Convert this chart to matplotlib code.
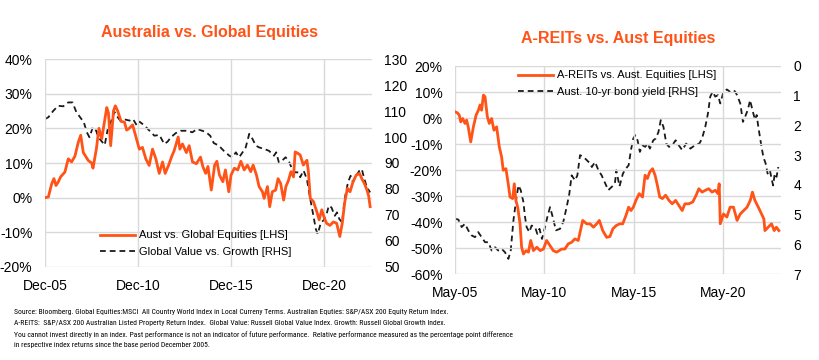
import matplotlib
matplotlib.use("Agg")
import matplotlib.pyplot as plt
from matplotlib import font_manager
from matplotlib.font_manager import FontProperties

plt.rcParams['font.family'] = ['Liberation Sans', 'DejaVu Sans']
plt.rcParams['axes.unicode_minus'] = False

ORANGE = '#FF5317'

# ---------------- Left chart data (decimal years) ----------------
aus_t = [2005.92, 2006.1, 2006.28, 2006.4, 2006.51, 2006.63, 2006.76, 2006.99, 2007.17, 2007.35,
         2007.53, 2007.71, 2007.84, 2007.98, 2008.25, 2008.43, 2008.5, 2008.68, 2008.82, 2008.97,
         2009.24, 2009.33, 2009.45, 2009.57, 2009.6, 2009.7, 2009.83, 2010.01, 2010.19, 2010.31,
         2010.45, 2010.63, 2010.81, 2010.99, 2011.16, 2011.34, 2011.52, 2011.7, 2011.88, 2012.06,
         2012.24, 2012.38, 2012.56, 2012.74, 2012.86, 2013.08, 2013.17, 2013.31, 2013.52, 2013.67,
         2013.85, 2014.06, 2014.28, 2014.41, 2014.56, 2014.68, 2014.86, 2015.04, 2015.16, 2015.3,
         2015.48, 2015.62, 2015.8, 2015.92, 2016.1, 2016.28, 2016.45, 2016.63, 2016.8, 2016.98,
         2017.11, 2017.29, 2017.43, 2017.61, 2017.7, 2017.88, 2018.0, 2018.14, 2018.32, 2018.45,
         2018.59, 2018.75, 2018.87, 2019.01, 2019.14, 2019.28, 2019.37, 2019.51, 2019.64, 2019.81,
         2020.0, 2020.08, 2020.18, 2020.35, 2020.53, 2020.66, 2020.8, 2020.94, 2021.06, 2021.24,
         2021.42, 2021.6, 2021.77, 2021.9, 2022.04, 2022.18, 2022.32, 2022.48, 2022.65, 2022.83,
         2022.95, 2023.09, 2023.23, 2023.32, 2023.4]
aus_v = [0.0, 0.2, 4.0, 5.5, 3.5, 4.5, 6.0, 7.4, 11.2, 10.3,
         12.0, 16.0, 18.0, 13.0, 10.7, 10.0, 8.5, 14.0, 20.0, 17.0,
         26.0, 24.5, 15.0, 22.7, 25.0, 26.5, 25.0, 22.0, 21.8, 19.5,
         20.0, 21.0, 17.5, 14.0, 14.5, 11.2, 9.3, 14.0, 11.2, 7.0,
         10.3, 7.0, 9.3, 12.0, 13.5, 17.5, 14.0, 15.5, 13.0, 15.0,
         10.3, 9.8, 11.7, 8.9, 7.0, 9.0, 2.2, 9.4, 10.5, 6.5,
         4.6, 8.0, 1.7, 6.5, 8.5, 8.0, 10.5, 8.0, 9.4, 7.5,
         9.4, 6.5, 3.2, 1.7, -0.2, 3.2, -2.6, 1.7, 2.2, 5.5,
         4.1, -0.7, 3.2, 5.0, 7.5, 6.0, 13.2, 12.8, 12.3, 9.4,
         10.8, 7.5, -0.2, -1.1, -4.0, -6.4, -3.5, -5.9, -7.4, -8.0,
         -7.0, -7.4, -11.2, -7.4, -1.1, 2.7, 1.7, 4.6, 6.5, 7.0,
         5.5, 4.1, 2.2, 0.5, -2.6]

gvg_t = [2005.92, 2006.1, 2006.37, 2006.63, 2006.9, 2007.17, 2007.4, 2007.61, 2007.88, 2008.01,
         2008.17, 2008.31, 2008.49, 2008.67, 2008.79, 2009.13, 2009.31, 2009.49, 2009.65, 2009.83,
         2009.97, 2010.24, 2010.47, 2010.65, 2010.86, 2011.0, 2011.27, 2011.54, 2011.8, 2012.07,
         2012.33, 2012.51, 2012.69, 2012.95, 2013.22, 2013.57, 2013.84, 2014.1, 2014.37, 2014.55,
         2014.8, 2014.99, 2015.26, 2015.53, 2015.83, 2016.0, 2016.18, 2016.36, 2016.54, 2016.71,
         2016.9, 2017.08, 2017.25, 2017.43, 2017.7, 2017.96, 2018.23, 2018.35, 2018.49, 2018.67,
         2018.85, 2019.02, 2019.2, 2019.37, 2019.55, 2019.64, 2019.82, 2020.0, 2020.18, 2020.35,
         2020.48, 2020.58, 2020.76, 2020.88, 2021.06, 2021.18, 2021.32, 2021.5, 2021.62, 2021.74,
         2021.89, 2022.03, 2022.21, 2022.35, 2022.48, 2022.65, 2022.83, 2022.95, 2023.09, 2023.23,
         2023.4]
gvg_v = [106.9, 107.6, 110.1, 112.0, 111.8, 113.3, 113.3, 109.5, 106.9, 105.6,
         101.8, 99.9, 103.7, 102.4, 99.9, 96.9, 103.7, 106.3, 109.7, 107.6,
         106.3, 106.7, 106.3, 106.9, 104.4, 105.9, 104.4, 102.4, 100.5, 100.8,
         97.3, 98.2, 99.9, 101.5, 102.4, 102.4, 101.8, 103.1, 102.4, 102.0,
         100.5, 97.7, 96.7, 94.7, 92.8, 92.2, 94.1, 92.2, 94.1, 96.0,
         101.2, 99.2, 96.7, 96.0, 95.4, 94.7, 92.8, 94.1, 90.3, 90.9,
         92.2, 90.9, 87.7, 86.4, 86.4, 84.5, 87.1, 83.8, 76.2, 69.7,
         64.6, 62.7, 67.2, 67.8, 70.4, 73.6, 72.9, 69.7, 71.0, 68.5,
         67.2, 76.2, 82.6, 85.1, 82.6, 85.1, 87.1, 87.7, 83.8, 80.6,
         78.7]

left_xticks = [2005.92, 2010.92, 2015.92, 2020.92]
left_xlabels = ['Dec-05', 'Dec-10', 'Dec-15', 'Dec-20']
left_yticks = [-20, -10, 0, 10, 20, 30, 40]
left_y2ticks = [50, 60, 70, 80, 90, 100, 110, 120, 130]

# ---------------- Right chart data ----------------
reit_t = [2005.33, 2005.46, 2005.57, 2005.65, 2005.76, 2005.89, 2005.98, 2006.07, 2006.21, 2006.36,
          2006.51, 2006.64, 2006.73, 2006.82, 2006.92, 2007.01, 2007.14, 2007.25, 2007.38, 2007.51,
          2007.66, 2007.81, 2007.94, 2008.03, 2008.18, 2008.31, 2008.41, 2008.56, 2008.65, 2008.74,
          2008.84, 2008.97, 2009.06, 2009.16, 2009.31, 2009.44, 2009.57, 2009.72, 2009.91, 2010.1,
          2010.28, 2010.46, 2010.65, 2010.83, 2011.02, 2011.3, 2011.48, 2011.67, 2011.86, 2012.04,
          2012.23, 2012.48, 2012.7, 2012.89, 2013.08, 2013.26, 2013.41, 2013.6, 2013.82, 2014.0,
          2014.17, 2014.35, 2014.54, 2014.72, 2014.9, 2015.05, 2015.18, 2015.31, 2015.46, 2015.64,
          2015.83, 2015.97, 2016.1, 2016.23, 2016.39, 2016.53, 2016.66, 2016.79, 2016.94, 2017.12,
          2017.31, 2017.49, 2017.68, 2017.86, 2018.05, 2018.2, 2018.42, 2018.64, 2018.83, 2018.98,
          2019.16, 2019.35, 2019.53, 2019.72, 2019.9, 2020.05, 2020.12, 2020.18, 2020.36, 2020.55,
          2020.73, 2020.92, 2021.12, 2021.3, 2021.49, 2021.68, 2021.86, 2021.98, 2022.12, 2022.31,
          2022.49, 2022.62, 2022.68, 2022.86, 2023.05, 2023.2, 2023.32, 2023.46]
reit_v = [2.4, 2.0, 1.1, -1.5, -0.2, -2.1, -0.8, -3.4, -9.2, -3.4,
          1.1, 3.0, 5.0, 3.0, 8.8, 8.2, 0.5, -2.1, -0.2, -4.7,
          -3.4, -11.1, -15.0, -20.1, -19.5, -25.3, -30.4, -31.0, -25.3, -31.7,
          -34.3, -40.7, -49.7, -52.3, -51.0, -51.6, -47.1, -51.0, -49.7, -51.0,
          -50.4, -47.1, -49.1, -51.0, -51.6, -50.4, -50.4, -48.4, -47.8, -46.5,
          -47.1, -39.4, -40.7, -40.7, -42.0, -40.7, -39.4, -43.3, -45.9, -45.6,
          -42.6, -41.4, -40.7, -40.7, -37.5, -34.3, -35.6, -34.3, -31.7, -29.1,
          -30.4, -22.0, -23.3, -20.8, -19.5, -22.0, -25.9, -30.4, -31.0, -29.7,
          -31.7, -33.0, -31.7, -33.6, -35.6, -33.0, -33.0, -32.3, -29.7, -27.2,
          -28.5, -27.8, -27.2, -28.5, -27.8, -29.1, -25.3, -40.7, -36.9, -38.1,
          -34.3, -34.3, -39.4, -36.9, -35.6, -34.3, -31.7, -28.5, -31.7, -34.3,
          -36.9, -38.8, -43.3, -42.0, -40.7, -43.3, -42.0, -43.3]

bond_t = [2005.33, 2005.52, 2005.7, 2005.89, 2006.07, 2006.26, 2006.45, 2006.63, 2006.82, 2007.01,
          2007.2, 2007.38, 2007.57, 2007.75, 2007.94, 2008.13, 2008.32, 2008.45, 2008.6, 2008.75,
          2008.88, 2009.01, 2009.16, 2009.25, 2009.34, 2009.49, 2009.62, 2009.81, 2009.94, 2010.06,
          2010.2, 2010.37, 2010.5, 2010.65, 2010.8, 2010.98, 2011.21, 2011.39, 2011.58, 2011.73,
          2011.86, 2012.05, 2012.18, 2012.33, 2012.52, 2012.71, 2012.89, 2012.99, 2013.17, 2013.36,
          2013.54, 2013.91, 2014.1, 2014.28, 2014.36, 2014.54, 2014.73, 2014.9, 2015.05, 2015.18,
          2015.31, 2015.42, 2015.55, 2015.68, 2015.83, 2015.98, 2016.11, 2016.24, 2016.43, 2016.57,
          2016.72, 2016.85, 2017.0, 2017.16, 2017.31, 2017.49, 2017.68, 2017.86, 2018.05, 2018.27,
          2018.51, 2018.75, 2018.88, 2019.01, 2019.16, 2019.34, 2019.49, 2019.62, 2019.75, 2019.9,
          2020.05, 2020.18, 2020.36, 2020.55, 2020.73, 2020.92, 2021.02, 2021.12, 2021.3, 2021.45,
          2021.57, 2021.72, 2021.85, 2021.98, 2022.13, 2022.22, 2022.31, 2022.46, 2022.59, 2022.72,
          2022.83, 2022.96, 2023.05, 2023.14, 2023.23, 2023.33, 2023.43]
bond_v = [5.14, 5.17, 5.42, 5.31, 5.53, 5.70, 5.76, 5.59, 5.76, 5.93,
          5.93, 6.21, 6.10, 6.21, 6.15, 6.27, 6.49, 6.21, 5.20, 4.52,
          4.02, 4.18, 4.58, 5.08, 5.42, 5.59, 5.37, 5.42, 5.65, 5.48,
          5.82, 5.42, 5.08, 4.75, 5.08, 5.53, 5.48, 5.25, 4.75, 4.30,
          3.68, 3.85, 3.68, 3.00, 3.06, 3.17, 3.28, 3.40, 3.23, 3.51,
          3.68, 4.18, 4.07, 3.96, 3.51, 4.05, 3.62, 3.45, 3.34, 2.83,
          2.44, 2.33, 2.50, 2.89, 2.67, 2.72, 2.61, 2.78, 2.50, 2.44,
          2.22, 1.82, 2.05, 2.61, 2.72, 2.67, 2.50, 2.67, 2.83, 2.61,
          2.78, 2.67, 2.63, 2.61, 2.44, 2.05, 1.60, 1.03, 0.87, 1.03,
          0.98, 1.26, 0.87, 0.79, 0.87, 0.81, 0.87, 0.98, 1.26, 1.88,
          1.71, 1.48, 1.15, 1.48, 1.82, 1.65, 2.05, 2.61, 3.06, 3.28,
          3.62, 3.51, 3.79, 4.02, 3.62, 3.73, 3.40, 3.51, 4.02]

right_xticks = [2005.33, 2010.33, 2015.33, 2020.33]
right_xlabels = ['May-05', 'May-10', 'May-15', 'May-20']
right_yticks = [-60, -50, -40, -30, -20, -10, 0, 10, 20]
right_y2ticks = [0, 1, 2, 3, 4, 5, 6, 7]

footnote = [
    "Source: Bloomberg. Global Equities:MSCI  All Country World Index in Local Curreny Terms. Australian Equties: S&P/ASX 200 Equity Return Index.",
    "A-REITS:  S&P/ASX 200 Australian Listed Property Return Index.  Global Value: Russell Global Value Index. Growth: Russell Global Growth Index.",
    "You cannot invest directly in an index. Past performance is not an indicator of future performance.  Relative performance measured as the percentage point difference",
    "in respective index returns since the base period December 2005.",
]

n = min(len(bond_t), len(bond_v))
bond_t, bond_v = bond_t[:n], bond_v[:n]

GRID = '#d9d9d9'
TICKFS = 10


def style(ax, ax2):
    for a in (ax, ax2):
        for s in a.spines.values():
            s.set_visible(False)
        a.tick_params(length=0, labelsize=TICKFS, colors='black')
    ax.tick_params(axis='y', pad=9)
    ax2.tick_params(axis='y', pad=9)
    ax.tick_params(axis='x', pad=9)
    ax.grid(True, color=GRID, linewidth=1.0)
    ax.set_axisbelow(True)


fig = plt.figure(figsize=(8.2, 3.6), dpi=100)

# ---- Left ----
axL = fig.add_axes([45/820, 1-267/360, 327/820, 208/360])
axL2 = axL.twinx()
l1, = axL.plot(aus_t, aus_v, color=ORANGE, lw=2.0, zorder=3)
l2, = axL2.plot(gvg_t, gvg_v, color='#1a1a1a', lw=1.3, dashes=(3.2, 2.2), zorder=2)
axL.set_xlim(2005.92, 2023.5)
axL.set_ylim(-20, 40)
axL2.set_ylim(50, 130)
axL.set_yticks(left_yticks)
axL.set_yticklabels([f"{v}%" for v in left_yticks])
axL2.set_yticks(left_y2ticks)
axL.set_xticks(left_xticks)
axL.set_xticklabels(left_xlabels)
style(axL, axL2)
axL.set_zorder(axL2.get_zorder() + 1)
axL.patch.set_visible(False)
axL.legend([l1, l2], ['Aust vs. Global Equities [LHS]', 'Global Value vs. Growth [RHS]'],
           loc='center left', bbox_to_anchor=(0.168, 0.113), frameon=False,
           fontsize=8, handlelength=3.2, handletextpad=0.3, labelspacing=0.55,
           borderpad=0, borderaxespad=0)
fig.text(210/820, 1-32/360, 'Australia vs. Global Equities', color=ORANGE,
         fontsize=11.5, fontweight='bold', ha='center', va='center')

# ---- Right ----
axR = fig.add_axes([455/820, 1-274/360, 326/820, 208/360])
axR2 = axR.twinx()
r1, = axR.plot(reit_t, reit_v, color=ORANGE, lw=2.0, zorder=3)
r2, = axR2.plot(bond_t, bond_v, color='#1a1a1a', lw=1.3, dashes=(3.2, 2.2), zorder=2)
axR.set_xlim(2005.33, 2023.58)
axR.set_ylim(-60, 20)
axR2.set_ylim(7, 0)
axR.set_yticks(right_yticks)
axR.set_yticklabels([f"{v}%" for v in right_yticks])
axR2.set_yticks(right_y2ticks)
axR.set_xticks(right_xticks)
axR.set_xticklabels(right_xlabels)
style(axR, axR2)
axR.set_zorder(axR2.get_zorder() + 1)
axR.patch.set_visible(False)
axR.legend([r1, r2], ['A-REITs vs. Aust. Equities [LHS]', 'Aust. 10-yr bond yield [RHS]'],
           loc='center left', bbox_to_anchor=(0.193, 0.916), frameon=False,
           fontsize=8, handlelength=3.2, handletextpad=0.3, labelspacing=0.55,
           borderpad=0, borderaxespad=0)
fig.text(618/820, 1-38/360, 'A-REITs vs. Aust Equities', color=ORANGE,
         fontsize=11.5, fontweight='bold', ha='center', va='center')

# ---- Footnote: pick a narrow face if one is installed ----
fnt = None
for f in font_manager.fontManager.ttflist:
    low = (f.name + ' ' + f.fname).lower()
    if ('narrow' in low or 'condensed' in low) and f.style == 'normal' and f.weight in (400, 'normal', 'regular'):
        if 'liberation' in low or 'dejavusans' in low.replace(' ', '') or 'roboto' in low or 'open' in low:
            fnt = f.fname
            if 'liberation' in low:
                break
if fnt:
    fp = FontProperties(fname=fnt)
else:
    fp = FontProperties(family='Liberation Sans')

ys = [312, 323.5, 335, 345.5]
texts = []
for y, line in zip(ys, footnote):
    texts.append(fig.text(14/820, 1-y/360, line, fontproperties=fp.copy(),
                          ha='left', va='center', color='black'))
# fit the longest line to the width seen in the reference (~501 px)
fig.canvas.draw()
r = fig.canvas.get_renderer()
size = 7.0
for t in texts:
    t.set_fontsize(size)
w = texts[2].get_window_extent(r).width
size = size * 501.0 / w
for t in texts:
    t.set_fontsize(size)

fig.savefig('out.png', dpi=100)
